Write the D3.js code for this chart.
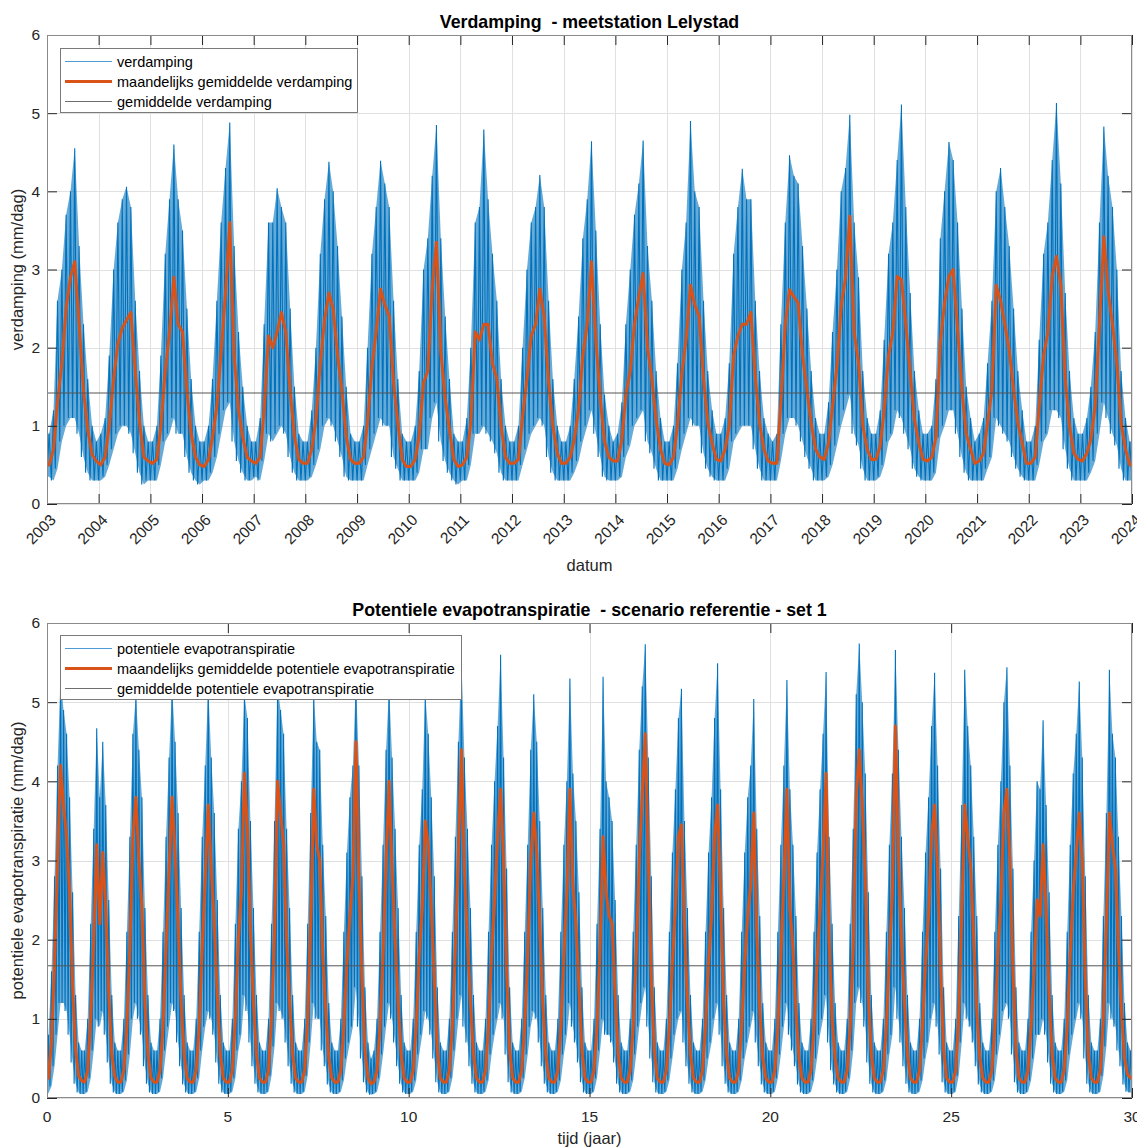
<!DOCTYPE html>
<html>
<head>
<meta charset="utf-8">
<script src="https://cdn.jsdelivr.net/npm/d3@7"></script>
<style>
  body { margin: 0; background: #fff; }
  svg { display: block; font-family: "Liberation Sans", Arial, sans-serif; }
</style>
</head>
<body>
<svg id="chart" width="1137" height="1147"></svg>
<script>
// ---------------- Panel 1: measured evaporation, Lelystad ----------------
const verdYears = [2003,2004,2005,2006,2007,2008,2009,2010,2011,2012,2013,2014,2015,2016,2017,2018,2019,2020,2021,2022,2023];
const verdTickLabels = ["2003","2004","2005","2006","2007","2008","2009","2010","2011","2012","2013","2014","2015","2016","2017","2018","2019","2020","2021","2022","2023","2024"];

// monthly mean evaporation (mm/day), Jan..Dec per year
const verdMonthlyMean = [
  [0.50,0.70,1.30,1.80,2.50,2.90,3.10,2.30,1.45,0.95,0.63,0.55],
  [0.50,0.60,1.00,1.60,2.05,2.25,2.35,2.45,1.70,1.05,0.60,0.55],
  [0.52,0.57,1.00,1.70,2.20,2.90,2.30,2.20,1.45,0.90,0.60,0.50],
  [0.48,0.57,0.85,1.25,1.95,2.70,3.60,1.90,1.20,0.85,0.60,0.55],
  [0.52,0.60,1.20,2.15,2.00,2.20,2.45,2.20,1.45,0.87,0.57,0.52],
  [0.52,0.70,1.08,1.80,2.35,2.70,2.50,1.90,1.45,0.87,0.57,0.52],
  [0.52,0.60,1.04,1.76,2.20,2.75,2.55,2.40,1.55,1.04,0.57,0.48],
  [0.48,0.57,0.87,1.55,1.70,2.75,3.35,1.95,1.35,0.95,0.57,0.48],
  [0.50,0.60,1.04,2.20,2.10,2.30,2.30,1.80,1.60,1.00,0.60,0.52],
  [0.52,0.57,1.12,1.60,2.15,2.30,2.75,2.40,1.55,1.00,0.65,0.52],
  [0.52,0.60,0.82,1.20,1.90,2.30,3.10,2.10,1.35,0.80,0.60,0.55],
  [0.55,0.82,1.40,1.70,2.30,2.65,2.95,2.00,1.60,1.08,0.70,0.52],
  [0.50,0.60,1.00,1.68,2.10,2.80,2.55,2.40,1.60,1.04,0.78,0.57],
  [0.55,0.70,1.00,1.90,2.15,2.30,2.30,2.45,1.63,1.04,0.70,0.55],
  [0.52,0.52,1.30,2.30,2.74,2.65,2.57,1.90,1.46,1.04,0.70,0.60],
  [0.57,0.78,1.25,1.76,2.53,2.90,3.68,2.20,1.80,1.00,0.70,0.57],
  [0.57,0.74,1.20,1.90,2.19,2.91,2.87,2.30,1.68,1.08,0.78,0.57],
  [0.55,0.60,0.85,2.06,2.57,2.91,3.00,2.23,1.46,0.90,0.70,0.52],
  [0.55,0.65,1.04,1.46,2.80,2.60,2.30,1.97,1.46,1.04,0.78,0.52],
  [0.52,0.60,1.25,1.90,2.19,2.91,3.17,2.80,1.60,1.00,0.65,0.57],
  [0.55,0.65,0.82,1.25,2.30,3.42,2.74,2.30,1.80,1.04,0.70,0.50]
];

// highest daily evaporation within each month (mm/day)
const verdMonthlyMax = [
  [0.9,1.2,2.6,3.0,3.7,4.0,4.55,3.3,2.3,1.6,1.0,0.8],
  [0.9,1.1,1.9,3.0,3.6,3.9,4.06,3.8,2.6,1.7,1.0,0.8],
  [0.8,1.0,1.9,3.2,3.9,4.6,3.9,3.5,2.5,1.6,1.0,0.8],
  [0.8,1.0,1.6,2.6,3.6,4.3,4.88,3.3,2.2,1.5,1.0,0.8],
  [0.8,1.1,2.3,3.6,3.6,4.04,3.8,3.6,2.5,1.5,0.9,0.8],
  [0.8,1.2,2.0,3.2,3.9,4.38,4.0,3.3,2.4,1.5,0.9,0.8],
  [0.8,1.0,2.0,3.2,3.8,4.39,4.1,3.8,2.6,1.6,0.9,0.8],
  [0.8,1.0,1.7,3.0,3.4,4.2,4.85,3.4,2.4,1.6,0.9,0.8],
  [0.8,1.1,2.0,3.6,3.8,4.79,3.9,3.2,2.6,1.6,1.0,0.8],
  [0.8,1.0,2.0,3.0,3.6,3.8,4.21,3.8,2.6,1.6,1.0,0.8],
  [0.8,1.0,1.6,2.4,3.4,3.9,4.64,3.5,2.3,1.4,1.0,0.8],
  [0.9,1.3,2.3,3.0,3.7,4.1,4.65,3.3,2.6,1.7,1.1,0.8],
  [0.8,1.0,1.8,3.0,3.6,4.9,4.0,3.8,2.6,1.7,1.2,0.9],
  [0.9,1.1,1.8,3.2,3.8,4.29,3.9,3.9,2.6,1.7,1.1,0.9],
  [0.8,0.9,2.3,3.6,4.46,4.2,4.1,3.3,2.5,1.7,1.1,0.9],
  [0.9,1.3,2.2,3.0,4.0,4.3,4.98,3.6,2.9,1.7,1.1,0.9],
  [0.9,1.2,2.1,3.2,3.6,4.4,5.11,3.8,2.7,1.7,1.2,0.9],
  [0.9,1.0,1.6,3.4,4.0,4.63,4.4,3.6,2.5,1.5,1.1,0.8],
  [0.9,1.1,1.8,2.6,4.0,4.3,3.8,3.3,2.5,1.7,1.2,0.8],
  [0.8,1.0,2.1,3.2,3.6,4.4,5.13,4.1,2.7,1.7,1.1,0.9],
  [0.9,1.1,1.5,2.2,3.6,4.83,4.2,3.8,3.0,1.7,1.1,0.8]
];

// lowest daily evaporation within each month (mm/day)
const verdMonthlyMin = [
  [0.35,0.30,0.45,0.80,1.00,1.10,1.10,0.90,0.60,0.40,0.30,0.30],
  [0.30,0.35,0.50,0.70,0.90,1.00,1.00,0.90,0.65,0.40,0.25,0.30],
  [0.30,0.30,0.50,0.80,0.90,1.10,0.90,0.90,0.60,0.40,0.30,0.25],
  [0.30,0.30,0.40,0.60,0.90,1.20,1.30,0.80,0.55,0.40,0.30,0.30],
  [0.35,0.30,0.55,0.90,0.80,0.90,1.00,0.90,0.60,0.40,0.30,0.30],
  [0.30,0.35,0.50,0.70,1.00,1.10,1.00,0.80,0.60,0.35,0.30,0.30],
  [0.30,0.30,0.50,0.70,0.90,1.10,1.00,1.00,0.60,0.45,0.30,0.30],
  [0.30,0.30,0.40,0.70,0.70,1.10,1.30,0.80,0.55,0.40,0.30,0.25],
  [0.30,0.30,0.50,0.90,0.90,1.00,0.90,0.80,0.65,0.40,0.30,0.30],
  [0.30,0.30,0.50,0.70,0.90,1.00,1.10,1.00,0.60,0.40,0.30,0.30],
  [0.30,0.30,0.40,0.55,0.80,1.00,1.20,0.90,0.60,0.35,0.30,0.30],
  [0.30,0.35,0.60,0.75,1.00,1.10,1.20,0.80,0.65,0.45,0.30,0.30],
  [0.30,0.30,0.45,0.70,0.90,1.10,1.00,1.00,0.65,0.45,0.35,0.30],
  [0.30,0.30,0.45,0.80,0.90,1.00,1.00,1.00,0.70,0.45,0.30,0.30],
  [0.30,0.30,0.55,0.90,1.10,1.10,1.00,0.80,0.60,0.45,0.30,0.30],
  [0.30,0.35,0.50,0.75,1.00,1.20,1.40,0.90,0.75,0.45,0.30,0.30],
  [0.30,0.35,0.50,0.80,0.90,1.20,1.10,0.90,0.70,0.45,0.35,0.30],
  [0.30,0.30,0.40,0.85,1.00,1.20,1.20,0.90,0.60,0.40,0.30,0.30],
  [0.30,0.30,0.45,0.60,1.10,1.00,0.90,0.80,0.60,0.45,0.35,0.30],
  [0.30,0.30,0.50,0.80,0.90,1.20,1.20,1.10,0.70,0.45,0.30,0.30],
  [0.30,0.30,0.40,0.55,0.90,1.30,1.10,0.90,0.75,0.45,0.30,0.30]
];
const verdOverallMean = 1.42;

// ---------------- Panel 2: potential evapotranspiration, reference scenario ----------------
const petYears = d3.range(0, 30);           // simulation years 0..29
const petTickLabels = ["0","5","10","15","20","25","30"];

const petMonthlyMean = [
  [0.25,0.70,1.70,3.00,4.20,3.70,3.30,2.60,1.40,0.60,0.28,0.22],
  [0.20,0.35,1.00,2.00,3.20,2.20,3.10,2.40,1.30,0.55,0.27,0.20],
  [0.20,0.35,0.90,1.90,3.30,3.80,3.00,2.40,1.20,0.55,0.25,0.20],
  [0.20,0.35,0.90,1.90,2.90,3.80,3.10,2.20,1.20,0.55,0.25,0.20],
  [0.20,0.35,0.90,1.90,2.80,3.70,2.90,2.20,1.30,0.55,0.25,0.20],
  [0.20,0.35,1.00,2.00,2.60,4.10,3.40,2.10,1.20,0.55,0.25,0.20],
  [0.20,0.35,1.00,2.10,4.00,3.60,3.20,2.00,1.20,0.55,0.25,0.20],
  [0.20,0.35,1.00,2.20,3.90,3.20,3.00,1.80,1.10,0.50,0.25,0.20],
  [0.20,0.35,0.90,1.70,2.30,2.80,4.50,2.80,1.50,0.60,0.25,0.18],
  [0.20,0.35,0.90,1.80,3.00,4.00,2.90,2.00,1.20,0.55,0.25,0.20],
  [0.20,0.35,0.90,1.80,2.40,3.50,3.20,2.40,1.50,0.60,0.25,0.20],
  [0.20,0.35,0.90,1.90,3.10,4.40,2.90,2.00,1.20,0.55,0.25,0.20],
  [0.20,0.35,0.90,1.80,2.50,3.30,3.90,3.00,1.60,0.60,0.25,0.20],
  [0.20,0.35,0.90,1.80,3.00,3.60,3.10,2.20,1.20,0.55,0.25,0.20],
  [0.20,0.35,0.90,1.80,2.60,3.90,2.70,2.20,1.40,0.60,0.25,0.20],
  [0.20,0.35,0.90,1.90,3.30,2.60,2.30,2.20,1.30,0.55,0.25,0.20],
  [0.20,0.35,0.90,1.80,3.00,3.85,4.60,3.00,1.50,0.60,0.25,0.20],
  [0.20,0.35,0.90,1.70,2.40,3.30,3.45,2.20,1.20,0.55,0.25,0.20],
  [0.20,0.35,0.90,1.70,2.30,3.30,3.70,2.60,1.20,0.55,0.25,0.20],
  [0.20,0.35,0.90,1.70,2.30,2.70,3.60,2.10,1.10,0.50,0.25,0.20],
  [0.20,0.35,0.90,1.80,2.80,3.90,2.40,1.90,1.10,0.50,0.25,0.20],
  [0.20,0.35,0.90,1.70,2.40,3.10,4.10,2.00,1.00,0.50,0.25,0.20],
  [0.20,0.35,0.90,1.90,3.80,4.40,3.70,2.80,1.30,0.55,0.25,0.20],
  [0.20,0.35,0.90,1.80,2.60,4.70,3.10,2.00,1.20,0.55,0.25,0.20],
  [0.20,0.35,0.90,1.70,2.30,3.30,3.70,2.90,1.60,0.60,0.25,0.20],
  [0.20,0.35,1.00,2.30,3.70,3.30,2.90,2.00,1.10,0.50,0.25,0.20],
  [0.20,0.35,0.90,1.80,2.50,3.60,3.90,3.00,1.60,0.60,0.25,0.20],
  [0.20,0.35,0.90,1.60,2.50,2.30,3.20,2.40,1.30,0.55,0.25,0.20],
  [0.20,0.35,0.90,1.80,2.60,3.10,3.60,3.00,1.50,0.55,0.25,0.20],
  [0.20,0.35,1.00,2.20,3.60,3.20,2.90,1.90,1.10,0.50,0.30,0.25]
];

const petMonthlyMax = [
  [0.8,1.6,2.8,4.2,5.3,4.9,4.6,3.8,2.6,1.3,0.7,0.6],
  [0.6,1.0,2.2,3.4,4.67,3.8,4.5,3.7,2.5,1.3,0.7,0.6],
  [0.6,1.0,2.1,3.3,4.6,5.1,4.4,3.8,2.4,1.3,0.7,0.6],
  [0.6,1.0,2.1,3.3,4.3,5.2,4.5,3.6,2.4,1.3,0.7,0.6],
  [0.6,1.0,2.1,3.3,4.2,5.2,4.3,3.6,2.5,1.3,0.7,0.6],
  [0.6,1.0,2.2,3.4,4.0,5.1,4.8,3.5,2.4,1.3,0.7,0.6],
  [0.6,1.0,2.2,3.5,5.2,4.9,4.6,3.4,2.4,1.3,0.7,0.6],
  [0.6,1.0,2.2,3.6,5.1,4.5,4.4,3.2,2.3,1.2,0.7,0.6],
  [0.6,1.0,2.1,3.1,3.8,4.2,5.3,4.2,2.8,1.4,0.7,0.5],
  [0.6,1.0,2.1,3.2,4.4,5.2,4.3,3.4,2.4,1.3,0.7,0.6],
  [0.6,1.0,2.1,3.2,3.9,5.1,4.6,3.8,2.8,1.4,0.7,0.6],
  [0.6,1.0,2.1,3.3,4.5,5.53,4.3,3.4,2.4,1.3,0.7,0.6],
  [0.6,1.0,2.1,3.2,4.0,4.7,5.6,4.3,2.9,1.4,0.7,0.6],
  [0.6,1.0,2.1,3.2,4.4,5.1,4.5,3.5,2.4,1.3,0.7,0.6],
  [0.6,1.0,2.1,3.2,4.0,5.3,4.1,3.5,2.6,1.4,0.7,0.6],
  [0.6,1.0,2.2,3.4,5.32,4.0,3.8,3.5,2.5,1.3,0.7,0.6],
  [0.6,1.0,2.1,3.2,4.4,5.2,5.73,4.3,2.8,1.4,0.7,0.6],
  [0.6,1.0,2.1,3.1,3.9,4.8,5.17,3.5,2.4,1.3,0.7,0.6],
  [0.6,1.0,2.1,3.1,3.8,4.8,5.49,3.9,2.4,1.3,0.7,0.6],
  [0.6,1.0,2.1,3.1,3.8,4.2,5.04,3.4,2.3,1.2,0.7,0.6],
  [0.6,1.0,2.1,3.2,4.2,5.28,3.9,3.2,2.3,1.2,0.7,0.6],
  [0.6,1.0,2.1,3.1,3.9,4.6,5.38,3.3,2.2,1.2,0.7,0.6],
  [0.6,1.0,2.2,3.4,5.1,5.74,5.0,4.1,2.6,1.3,0.7,0.6],
  [0.6,1.0,2.1,3.2,4.1,5.66,4.4,3.3,2.4,1.3,0.7,0.6],
  [0.6,1.0,2.1,3.1,3.8,4.7,5.37,4.2,2.9,1.4,0.7,0.6],
  [0.6,1.0,2.3,3.7,5.41,4.7,4.2,3.3,2.3,1.2,0.7,0.6],
  [0.6,1.0,2.1,3.2,4.0,5.0,5.44,4.2,2.9,1.4,0.7,0.6],
  [0.6,1.0,2.1,3.0,4.0,3.9,4.77,3.7,2.6,1.3,0.7,0.6],
  [0.6,1.0,2.1,3.2,4.1,4.6,5.26,4.3,2.8,1.3,0.7,0.6],
  [0.6,1.0,2.3,3.6,5.41,4.6,4.3,3.3,2.3,1.2,0.7,0.6]
];

const petMonthlyMin = [
  [0.06,0.15,0.40,0.80,1.20,1.20,1.10,0.80,0.45,0.18,0.07,0.05],
  [0.05,0.08,0.25,0.60,1.00,0.90,1.10,0.80,0.45,0.18,0.07,0.05],
  [0.05,0.08,0.22,0.55,1.00,1.20,1.00,0.80,0.40,0.18,0.07,0.05],
  [0.05,0.08,0.25,0.60,0.90,1.20,1.10,0.70,0.40,0.17,0.07,0.05],
  [0.05,0.08,0.25,0.60,0.90,1.10,1.00,0.80,0.45,0.18,0.07,0.05],
  [0.05,0.08,0.25,0.60,0.80,1.30,1.10,0.70,0.40,0.18,0.07,0.05],
  [0.05,0.08,0.28,0.65,1.20,1.10,1.00,0.70,0.40,0.18,0.07,0.05],
  [0.05,0.08,0.28,0.70,1.20,1.00,1.00,0.60,0.40,0.17,0.07,0.05],
  [0.05,0.08,0.22,0.50,0.70,0.90,1.40,0.90,0.50,0.20,0.07,0.04],
  [0.05,0.08,0.25,0.55,0.90,1.20,1.00,0.70,0.40,0.18,0.07,0.05],
  [0.05,0.08,0.22,0.55,0.80,1.10,1.00,0.80,0.50,0.20,0.07,0.05],
  [0.05,0.08,0.25,0.60,1.00,1.30,0.90,0.70,0.40,0.18,0.07,0.05],
  [0.05,0.08,0.22,0.55,0.80,1.00,1.20,1.00,0.55,0.20,0.07,0.05],
  [0.05,0.08,0.25,0.55,0.90,1.10,1.00,0.70,0.40,0.18,0.07,0.05],
  [0.05,0.08,0.22,0.55,0.80,1.20,0.90,0.70,0.45,0.20,0.07,0.05],
  [0.05,0.08,0.25,0.60,1.00,0.80,0.80,0.70,0.45,0.18,0.07,0.05],
  [0.05,0.08,0.22,0.55,0.90,1.20,1.40,0.90,0.50,0.20,0.07,0.05],
  [0.05,0.08,0.22,0.50,0.80,1.00,1.10,0.70,0.40,0.18,0.07,0.05],
  [0.05,0.08,0.22,0.50,0.70,1.00,1.20,0.80,0.40,0.18,0.07,0.05],
  [0.05,0.08,0.22,0.50,0.70,0.90,1.10,0.70,0.40,0.17,0.07,0.05],
  [0.05,0.08,0.25,0.55,0.90,1.20,0.80,0.60,0.40,0.17,0.07,0.05],
  [0.05,0.08,0.22,0.50,0.80,1.00,1.30,0.70,0.35,0.17,0.07,0.05],
  [0.05,0.08,0.25,0.60,1.20,1.40,1.20,0.90,0.45,0.18,0.07,0.05],
  [0.05,0.08,0.22,0.55,0.80,1.40,1.00,0.70,0.40,0.18,0.07,0.05],
  [0.05,0.08,0.22,0.50,0.70,1.00,1.20,0.90,0.55,0.20,0.07,0.05],
  [0.05,0.08,0.28,0.70,1.20,1.00,0.90,0.70,0.40,0.17,0.07,0.05],
  [0.05,0.08,0.22,0.55,0.80,1.10,1.20,1.00,0.55,0.20,0.07,0.05],
  [0.05,0.08,0.22,0.50,0.80,0.80,1.00,0.80,0.45,0.18,0.07,0.05],
  [0.05,0.08,0.22,0.55,0.80,1.00,1.20,1.00,0.50,0.18,0.07,0.05],
  [0.05,0.08,0.28,0.65,1.20,1.00,0.90,0.60,0.40,0.17,0.08,0.07]
];
const petOverallMean = 1.67;

const yTickValues = [0,1,2,3,4,5,6];

// ---------------- drawing ----------------
const svg = d3.select("#chart");
const COL_DAILY = "#0072BD", COL_MONTH = "#D95319", COL_MEAN = "#555555";
const AX = "#262626";

function drawPanel(cfg) {
  const { x, y, left, right, top, bottom } = cfg;
  const g = svg.append("g");
  const clipId = cfg.id + "-clip";
  svg.append("clipPath").attr("id", clipId)
    .append("rect").attr("x", left).attr("y", top)
    .attr("width", right - left).attr("height", bottom - top);

  // grid
  const grid = g.append("g").attr("stroke", "#e0e0e0").attr("stroke-width", 1);
  grid.selectAll(".gx").data(cfg.xGrid).join("line")
    .attr("x1", d => Math.round(x(d)) + 0.5).attr("x2", d => Math.round(x(d)) + 0.5)
    .attr("y1", top).attr("y2", bottom);
  grid.selectAll(".gy").data(yTickValues).join("line")
    .attr("x1", left).attr("x2", right)
    .attr("y1", d => Math.round(y(d)) + 0.5).attr("y2", d => Math.round(y(d)) + 0.5);

  const plot = g.append("g").attr("clip-path", `url(#${clipId})`);

  // daily series: the month-by-month range between lowest and highest day,
  // shaded, with a jagged line tracing the daily extremes
  plot.append("path").datum(cfg.range)
    .attr("fill", COL_DAILY).attr("fill-opacity", 0.6).attr("stroke", "none")
    .attr("d", d3.area().x(d => x(d[0])).y0(d => y(d[1])).y1(d => y(d[2])));
  plot.append("path").datum(cfg.daily)
    .attr("fill", "none").attr("stroke", COL_DAILY).attr("stroke-width", 1.1)
    .attr("stroke-linejoin", "miter")
    .attr("d", d3.line().x(d => x(d[0])).y(d => y(d[1])));

  // monthly mean
  plot.append("path").datum(cfg.monthly)
    .attr("fill", "none").attr("stroke", COL_MONTH).attr("stroke-width", 3)
    .attr("stroke-linejoin", "round")
    .attr("d", d3.line().x(d => x(d[0])).y(d => y(d[1])));

  // overall mean
  plot.append("line")
    .attr("x1", left).attr("x2", right)
    .attr("y1", y(cfg.mean)).attr("y2", y(cfg.mean))
    .attr("stroke", COL_MEAN).attr("stroke-width", 1);

  // box + inward ticks on all four sides
  const axes = g.append("g");
  const tl = 10;
  const xb = d3.axisBottom(x).tickValues(cfg.xTicks).tickSizeInner(-tl).tickSizeOuter(0).tickFormat("");
  const xt = d3.axisTop(x).tickValues(cfg.xTicks).tickSizeInner(-tl).tickSizeOuter(0).tickFormat("");
  const yl = d3.axisLeft(y).tickValues(yTickValues).tickSizeInner(-tl).tickSizeOuter(0).tickFormat("");
  const yr = d3.axisRight(y).tickValues(yTickValues).tickSizeInner(-tl).tickSizeOuter(0).tickFormat("");
  [[xb, `translate(0,${bottom})`], [xt, `translate(0,${top})`],
   [yl, `translate(${left},0)`], [yr, `translate(${right},0)`]].forEach(([ax, tr]) => {
    const a = axes.append("g").attr("transform", tr).call(ax);
    a.select(".domain").remove();
    a.selectAll("line").attr("stroke", AX).attr("stroke-width", 1);
  });
  axes.append("rect").attr("x", left + 0.5).attr("y", top + 0.5)
    .attr("width", right - left - 1).attr("height", bottom - top - 1)
    .attr("fill", "none").attr("stroke", "#8a8a8a").attr("stroke-width", 1);

  // y tick labels
  g.append("g").selectAll("text").data(yTickValues).join("text")
    .attr("x", left - 7).attr("y", d => y(d)).attr("dy", "0.35em")
    .attr("text-anchor", "end").attr("font-size", 15.5).attr("fill", AX)
    .text(d => d);

  // x tick labels
  const xl = g.append("g").selectAll("text").data(cfg.xTicks).join("text")
    .attr("font-size", 15.5).attr("fill", AX).text((d, i) => cfg.xLabels[i]);
  if (cfg.rotateX) {
    xl.attr("text-anchor", "end").attr("dy", "0.35em")
      .attr("transform", d => `translate(${x(d) + 6},${bottom + 13}) rotate(-45)`);
  } else {
    xl.attr("text-anchor", "middle").attr("x", d => x(d)).attr("y", bottom + 24);
  }

  // titles and axis labels
  g.append("text").attr("x", (left + right) / 2).attr("y", top - 7)
    .attr("text-anchor", "middle").attr("font-size", 17.8).attr("font-weight", "bold")
    .attr("fill", "#000").style("white-space", "pre").text(cfg.title);
  g.append("text").attr("x", (left + right) / 2).attr("y", cfg.xLabelY)
    .attr("text-anchor", "middle").attr("font-size", 16.5).attr("fill", AX).text(cfg.xLabel);
  g.append("text").attr("transform", `translate(23,${(top + bottom) / 2}) rotate(-90)`)
    .attr("text-anchor", "middle").attr("font-size", 16.5).attr("fill", AX).text(cfg.yLabel);

  // legend
  const lg = g.append("g").attr("transform", `translate(${cfg.legend.x},${cfg.legend.y})`);
  lg.append("rect").attr("x", 0.5).attr("y", 0.5).attr("width", cfg.legend.w).attr("height", 64)
    .attr("fill", "#fff").attr("stroke", "#7a7a7a").attr("stroke-width", 1);
  const items = [
    { c: "#4d9ad4", w: 1.2, label: cfg.names[0] },
    { c: COL_MONTH, w: 3, label: cfg.names[1] },
    { c: "#6e6e6e", w: 1, label: cfg.names[2] }
  ];
  items.forEach((it, i) => {
    const yy = 13.5 + i * 20;
    lg.append("line").attr("x1", 5).attr("x2", 52).attr("y1", yy).attr("y2", yy)
      .attr("stroke", it.c).attr("stroke-width", it.w);
    lg.append("text").attr("x", 57).attr("y", yy).attr("dy", "0.35em")
      .attr("font-size", 14.5).attr("fill", "#000").text(it.label);
  });
}

// ---- panel 1 series ----
const xTop = d3.scaleUtc()
  .domain([Date.UTC(verdYears[0], 0, 1), Date.UTC(verdYears[verdYears.length - 1] + 1, 0, 1)])
  .range([47, 1132]);
const yTop = d3.scaleLinear().domain([0, 6]).range([504, 35]);

const verdDaily = [], verdRange = [], verdMonthly = [];
verdYears.forEach((yr, i) => {
  for (let m = 0; m < 12; m++) {
    verdDaily.push([Date.UTC(yr, m, 1), verdMonthlyMin[i][m]]);
    verdDaily.push([Date.UTC(yr, m, 16), verdMonthlyMax[i][m]]);
    verdRange.push([Date.UTC(yr, m, 16), verdMonthlyMin[i][m], verdMonthlyMax[i][m]]);
    verdMonthly.push([Date.UTC(yr, m, 16), verdMonthlyMean[i][m]]);
  }
});
const nV = verdYears.length - 1;
verdDaily.push([xTop.domain()[1], verdMonthlyMin[nV][11]]);
verdRange.unshift([xTop.domain()[0], verdMonthlyMin[0][0], verdMonthlyMax[0][0]]);
verdRange.push([xTop.domain()[1], verdMonthlyMin[nV][11], verdMonthlyMax[nV][11]]);
verdMonthly.unshift([xTop.domain()[0], verdMonthlyMean[0][0]]);
verdMonthly.push([xTop.domain()[1], verdMonthlyMean[nV][11]]);

const yearTicks = verdTickLabels.map(s => Date.UTC(+s, 0, 1));

drawPanel({
  id: "p1", x: xTop, y: yTop, left: 47, right: 1132, top: 35, bottom: 504,
  daily: verdDaily, range: verdRange, monthly: verdMonthly, mean: verdOverallMean,
  xTicks: yearTicks, xGrid: yearTicks, xLabels: verdTickLabels, rotateX: true,
  title: "Verdamping  - meetstation Lelystad", xLabel: "datum", xLabelY: 571,
  yLabel: "verdamping (mm/dag)",
  legend: { x: 60, y: 48, w: 297 },
  names: ["verdamping", "maandelijks gemiddelde verdamping", "gemiddelde verdamping"]
});

// ---- panel 2 series ----
const xBot = d3.scaleLinear().domain([0, 30]).range([47, 1132]);
const yBot = d3.scaleLinear().domain([0, 6]).range([1098, 623]);

const petDaily = [], petRange = [], petMonthly = [];
petYears.forEach((yr, i) => {
  for (let m = 0; m < 12; m++) {
    petDaily.push([yr + m / 12, petMonthlyMin[i][m]]);
    petDaily.push([yr + (m + 0.5) / 12, petMonthlyMax[i][m]]);
    petRange.push([yr + (m + 0.5) / 12, petMonthlyMin[i][m], petMonthlyMax[i][m]]);
    petMonthly.push([yr + (m + 0.5) / 12, petMonthlyMean[i][m]]);
  }
});
const nP = petYears.length - 1;
petDaily.push([30, petMonthlyMin[nP][11]]);
petRange.unshift([0, petMonthlyMin[0][0], petMonthlyMax[0][0]]);
petRange.push([30, petMonthlyMin[nP][11], petMonthlyMax[nP][11]]);
petMonthly.unshift([0, petMonthlyMean[0][0]]);
petMonthly.push([30, petMonthlyMean[nP][11]]);

const petTicks = petTickLabels.map(Number);

drawPanel({
  id: "p2", x: xBot, y: yBot, left: 47, right: 1132, top: 623, bottom: 1098,
  daily: petDaily, range: petRange, monthly: petMonthly, mean: petOverallMean,
  xTicks: petTicks, xGrid: petTicks, xLabels: petTickLabels, rotateX: false,
  title: "Potentiele evapotranspiratie  - scenario referentie - set 1",
  xLabel: "tijd (jaar)", xLabelY: 1144,
  yLabel: "potentiele evapotranspiratie (mm/dag)",
  legend: { x: 60, y: 635, w: 401 },
  names: ["potentiele evapotranspiratie", "maandelijks gemiddelde potentiele evapotranspiratie", "gemiddelde potentiele evapotranspiratie"]
});
</script>
</body>
</html>
